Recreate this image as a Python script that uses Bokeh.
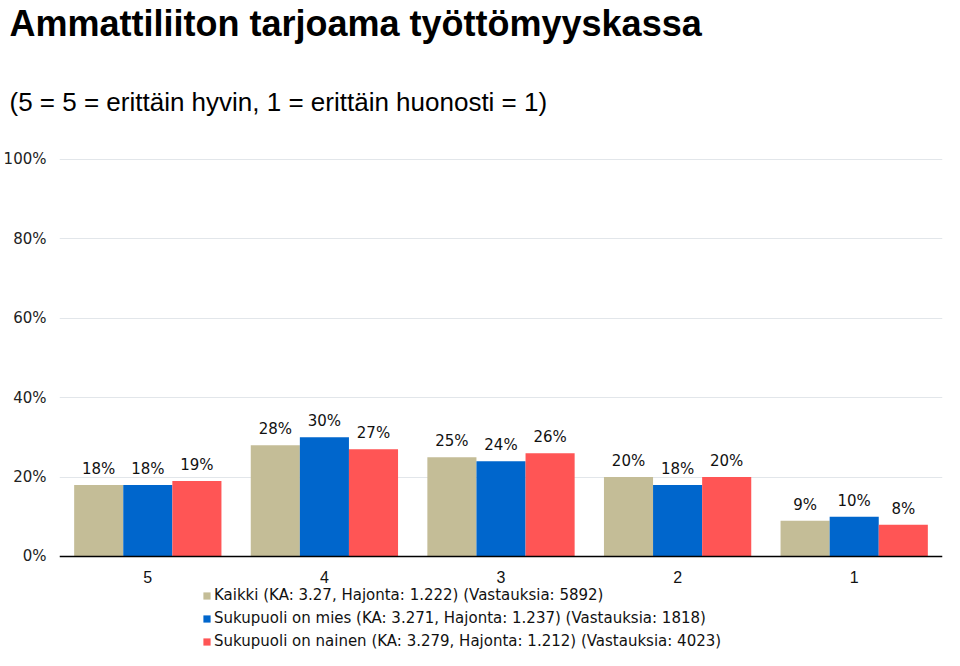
from bokeh.plotting import figure
from bokeh.models import FactorRange, Range1d, Legend, LegendItem, Title, FixedTicker, PrintfTickFormatter, ColumnDataSource
from bokeh.transform import dodge
from bokeh.core.properties import value
from bokeh.embed import file_html
from bokeh.resources import INLINE

categories = ["5", "4", "3", "2", "1"]
kaikki = [18, 28, 25, 20, 9]
mies = [18, 30, 24, 18, 10]
nainen = [19, 27, 26, 20, 8]
series_labels = [
    "Kaikki (KA: 3.27, Hajonta: 1.222) (Vastauksia: 5892)",
    "Sukupuoli on mies (KA: 3.271, Hajonta: 1.237) (Vastauksia: 1818)",
    "Sukupuoli on nainen (KA: 3.279, Hajonta: 1.212) (Vastauksia: 4023)",
]
y_ticks = [0, 20, 40, 60, 80, 100]
title_text = "Ammattiliiton tarjoama työttömyyskassa"
subtitle_text = "(5 = 5 = erittäin hyvin, 1 = erittäin huonosti = 1)"

colors = ["#C4BD97", "#0066CC", "#FF5555"]

src = ColumnDataSource(dict(
    cat=categories,
    kaikki=kaikki, mies=mies, nainen=nainen,
    kaikki_l=[f"{v}%" for v in kaikki],
    mies_l=[f"{v}%" for v in mies],
    nainen_l=[f"{v}%" for v in nainen],
))

p = figure(width=944, height=650, output_backend="svg", toolbar_location=None,
           x_range=FactorRange(*categories, range_padding=0),
           y_range=Range1d(-23.7, 100.5),
           min_border_left=50, min_border_right=2, min_border_top=0, min_border_bottom=0)

bw = 0.278
offsets = [-bw, 0, bw]
keys = ["kaikki", "mies", "nainen"]
renderers = []
for k, off, c in zip(keys, offsets, colors):
    r = p.vbar(x=dodge("cat", off, range=p.x_range), top=k, width=bw, source=src,
               fill_color=c, line_color=None)
    renderers.append(r)
    p.text(x=dodge("cat", off, range=p.x_range), y=k, text=k + "_l", source=src,
           text_align="center", text_baseline="bottom", y_offset=-7,
           text_font=value("DejaVu Sans"), text_font_size="15px", text_color="#111111")

# axes
p.yaxis.ticker = FixedTicker(ticks=y_ticks)
p.yaxis.formatter = PrintfTickFormatter(format="%d%%")
p.yaxis.axis_line_color = None
p.yaxis.major_tick_line_color = None
p.yaxis.minor_tick_line_color = None
p.yaxis.major_label_standoff = 7
p.yaxis.major_label_text_font = "DejaVu Sans"
p.yaxis.major_label_text_font_size = "15px"
p.yaxis.major_label_text_color = "#222222"

p.xaxis.fixed_location = 0
p.xaxis.axis_line_color = "black"
p.xaxis.axis_line_width = 1.5
p.xaxis.major_tick_line_color = None
p.xaxis.minor_tick_line_color = None
p.xaxis.major_label_standoff = 9
p.xaxis.major_label_text_font = "Liberation Sans"
p.xaxis.major_label_text_font_size = "16px"
p.xaxis.major_label_text_color = "#111111"

p.xgrid.grid_line_color = None
p.ygrid.grid_line_color = "#E2E6EA"
p.ygrid.grid_line_width = 1
p.outline_line_color = None

legend = Legend(items=[LegendItem(label=l, renderers=[r]) for l, r in zip(series_labels, renderers)],
                location=(143, 0), orientation="vertical",
                glyph_width=9, glyph_height=9, label_standoff=3,
                label_text_font="DejaVu Sans", label_text_font_size="15px",
                label_height=18, spacing=5, padding=0, margin=0,
                border_line_alpha=0, background_fill_alpha=0, label_text_color="#111111")
p.add_layout(legend, "center")

sub = Title(text=subtitle_text, text_font="Liberation Sans", text_font_style="normal",
            text_font_size="26px", align="left", offset=-50, standoff=82, text_color="#000000")
p.add_layout(sub, "above")
main = Title(text=title_text, text_font="Liberation Sans", text_font_style="bold",
             text_font_size="36px", align="left", offset=-50, standoff=0, text_color="#000000")
p.add_layout(main, "above")

open("out.html", "w").write(file_html(p, INLINE))
